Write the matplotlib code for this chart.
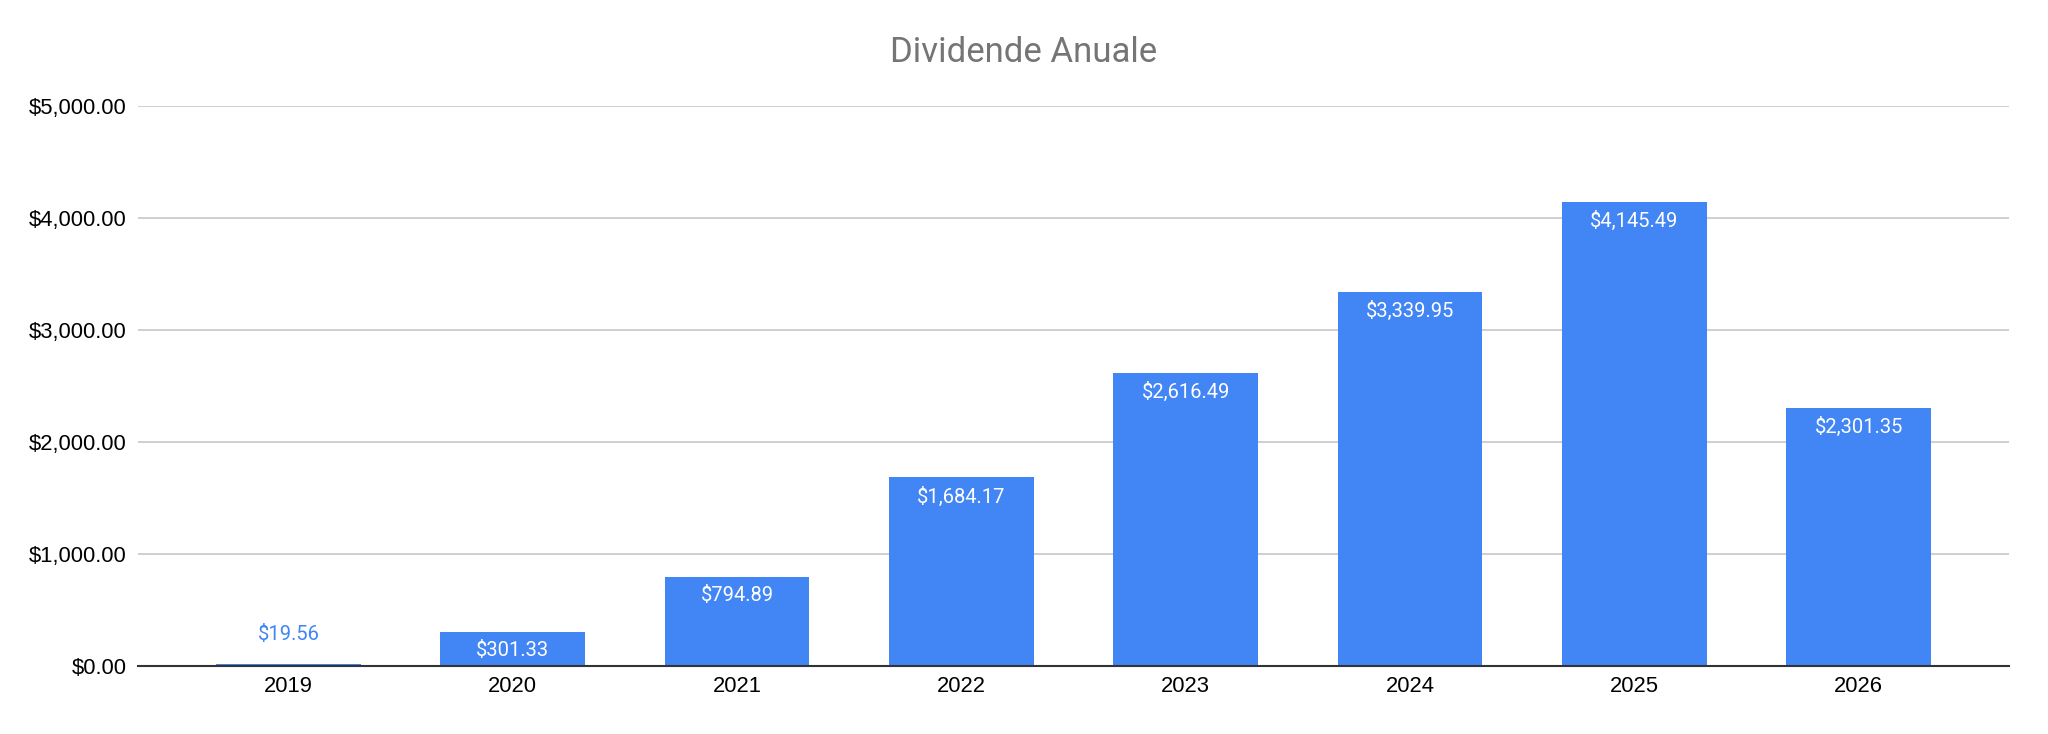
import matplotlib
matplotlib.use('Agg')
import matplotlib.pyplot as plt
from matplotlib.ticker import FuncFormatter

years = ['2019', '2020', '2021', '2022', '2023', '2024', '2025', '2026']
dividends = [19.56, 301.33, 794.89, 1684.17, 2616.49, 3339.95, 4145.49, 2301.35]
y_ticks = [0, 1000, 2000, 3000, 4000, 5000]

BLUE = '#4285F4'

fig = plt.figure(figsize=(20.48, 7.34), dpi=100)
fig.patch.set_facecolor('white')
ax = fig.add_axes([0.0674, 0.0926, 0.9136, 0.763])

x = range(len(years))
bars = ax.bar(x, dividends, width=0.645, color=BLUE, zorder=3)

# value labels: inside the top of the bar, or above it when the bar is too short
for i, v in enumerate(dividends):
    text = f'${v:,.2f}'
    if v < 200:
        ax.annotate(text, (i, v), xytext=(0, 14), textcoords='offset points',
                    ha='center', va='bottom', fontsize=14.5, color=BLUE,
                    family='Roboto', zorder=4)
    else:
        ax.annotate(text, (i, v), xytext=(0, -6.5), textcoords='offset points',
                    ha='center', va='top', fontsize=14.5, color='white',
                    family='Roboto', zorder=4)

ax.set_xlim(-0.67, len(years) - 1 + 0.67)
ax.set_ylim(0, 5000)
ax.set_yticks(y_ticks)
ax.yaxis.set_major_formatter(FuncFormatter(lambda v, p: f'${v:,.2f}'))
ax.set_xticks(list(x))
ax.set_xticklabels(years)

for lbl in ax.get_xticklabels() + ax.get_yticklabels():
    lbl.set_family('Liberation Sans')
    lbl.set_fontsize(15.8)
    lbl.set_color('#000000')

ax.tick_params(axis='both', length=0)
ax.tick_params(axis='y', pad=8)
ax.tick_params(axis='x', pad=7)

ax.grid(axis='y', color='#cccccc', linewidth=1.3, zorder=0)
for side in ['top', 'right', 'left']:
    ax.spines[side].set_visible(False)
ax.spines['bottom'].set_color('#333333')
ax.spines['bottom'].set_linewidth(1.5)
ax.spines['bottom'].set_zorder(5)

fig.text(0.5, 0.928, 'Dividende Anuale', ha='center', va='center',
         fontsize=25, color='#757575', family='Roboto')

fig.savefig('out.png', dpi=100, facecolor='white')
